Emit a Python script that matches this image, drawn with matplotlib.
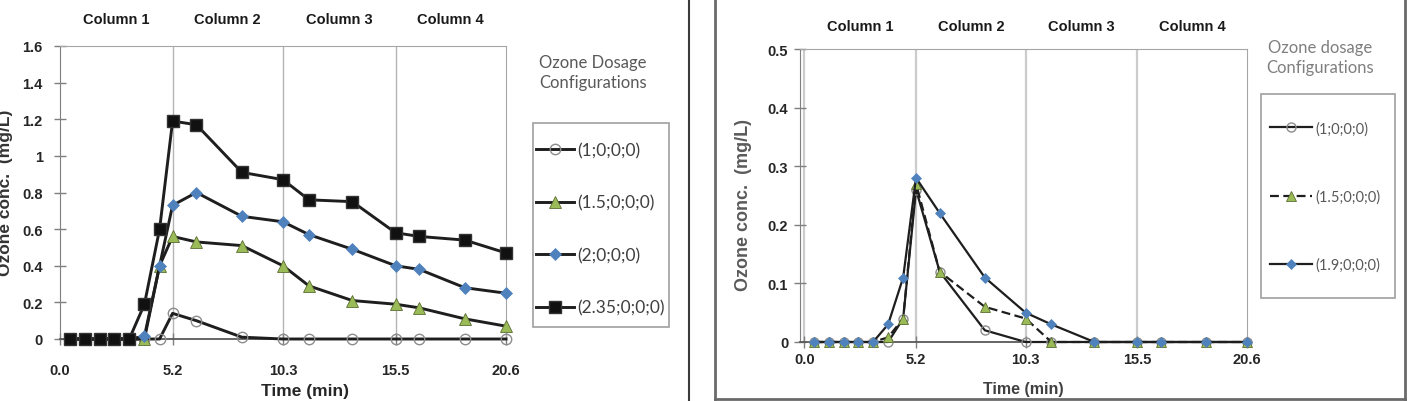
import matplotlib
matplotlib.use("Agg")
import matplotlib.pyplot as plt
from matplotlib.lines import Line2D
from matplotlib.patches import Rectangle
from matplotlib.transforms import blended_transform_factory

# ---------------- data ----------------
time_min = [0.45, 1.15, 1.85, 2.5, 3.2, 3.9, 4.6, 5.2, 6.3, 8.4, 10.3, 11.5, 13.5, 15.5, 16.6, 18.7, 20.6]

# left chart
left_labels = ["(1;0;0;0)", "(1.5;0;0;0)", "(2;0;0;0)", "(2.35;0;0;0)"]
left_d1 = [0, 0, 0, 0, 0, 0, 0, 0.14, 0.10, 0.01, 0, 0, 0, 0, 0, 0, 0]
left_d15 = [0, 0, 0, 0, 0, 0, 0.40, 0.56, 0.53, 0.51, 0.40, 0.29, 0.21, 0.19, 0.17, 0.11, 0.07]
left_d2 = [0, 0, 0, 0, 0, 0.015, 0.40, 0.73, 0.80, 0.67, 0.64, 0.57, 0.49, 0.40, 0.38, 0.28, 0.25]
left_d235 = [0, 0, 0, 0, 0, 0.19, 0.60, 1.19, 1.17, 0.91, 0.87, 0.76, 0.75, 0.58, 0.56, 0.54, 0.47]

# right chart
right_labels = ["(1;0;0;0)", "(1.5;0;0;0)", "(1.9;0;0;0)"]
right_d1 = [0, 0, 0, 0, 0, 0, 0.04, 0.26, 0.12, 0.02, 0, 0, 0, 0, 0, 0, 0]
right_d15 = [0, 0, 0, 0, 0, 0.008, 0.04, 0.27, 0.12, 0.06, 0.04, 0, 0, 0, 0, 0, 0]
right_d19 = [0, 0, 0, 0, 0, 0.03, 0.11, 0.28, 0.22, 0.11, 0.05, 0.03, 0, 0, 0, 0, 0]

x_ticks = [0.0, 5.2, 10.3, 15.5, 20.6]
x_ticklabels = ["0.0", "5.2", "10.3", "15.5", "20.6"]
column_boundaries = [5.2, 10.3, 15.5]
column_names = ["Column 1", "Column 2", "Column 3", "Column 4"]
column_centers = [2.6, 7.75, 12.9, 18.05]

left_yticks = [0, 0.2, 0.4, 0.6, 0.8, 1.0, 1.2, 1.4, 1.6]
left_yticklabels = ["0", "0.2", "0.4", "0.6", "0.8", "1", "1.2", "1.4", "1.6"]
right_yticks = [0, 0.1, 0.2, 0.3, 0.4, 0.5]
right_yticklabels = ["0", "0.1", "0.2", "0.3", "0.4", "0.5"]

# ---------------- figure ----------------
W, H = 1410, 402
fig = plt.figure(figsize=(W / 100, H / 100), dpi=100)
plt.rcParams['font.family'] = ['Liberation Sans', 'DejaVu Sans']

def px_rect(x0, y0, x1, y1):
    return [x0 / W, 1 - y1 / H, (x1 - x0) / W, (y1 - y0) / H]

LINE = "#1e1e1e"
BLUE = "#4f81bd"
GREEN = "#9bbb59"
TICKC = "#262626"

axL = fig.add_axes(px_rect(60, 47, 506, 340))
axR = fig.add_axes(px_rect(800, 50, 1247, 343))

def style_axes(ax, ylim, yticks, yticklabels, xlim, gridc, gridlw, xpad, ypad):
    ax.set_xlim(*xlim)
    ax.set_ylim(*ylim)
    for b in column_boundaries:
        ax.axvline(b, color=gridc, lw=gridlw, zorder=0.5)
    ax.set_xticks(x_ticks)
    ax.set_xticklabels(x_ticklabels)
    ax.set_yticks(yticks)
    ax.set_yticklabels(yticklabels)
    ax.tick_params(axis='x', direction='inout', length=9, width=1, color='#7f7f7f',
                   pad=xpad, labelsize=10.5, labelcolor=TICKC)
    ax.tick_params(axis='y', direction='inout', length=9, width=1, color='#7f7f7f',
                   pad=ypad, labelsize=10.5, labelcolor=TICKC)
    for lab in ax.get_xticklabels() + ax.get_yticklabels():
        lab.set_fontweight('bold')
    ax.spines['top'].set_color('#a6a6a6')
    ax.spines['right'].set_color('#a6a6a6')
    ax.spines['left'].set_color('#7f7f7f')
    ax.spines['bottom'].set_color('#595959')
    ax.spines['bottom'].set_linewidth(1.3)
    ax.set_facecolor('none')

style_axes(axL, (0, 1.6), left_yticks, left_yticklabels, (0, 20.6), '#b4b4b4', 1.0, 13, 8)
style_axes(axR, (0, 0.5), right_yticks, right_yticklabels, (-0.2, 20.6), '#cccccc', 1.6, 3, 4)
axR.axvline(0, color='#cccccc', lw=1.6, zorder=0.5)

# ---- left series ----
lw_l = 2.1
hL = []
hL.append(axL.plot(time_min, left_d1, color=LINE, lw=lw_l, marker='o', ms=7.5, mfc='none',
                   mec='#8c8c8c', mew=1.0, clip_on=False, zorder=3)[0])
hL.append(axL.plot(time_min, left_d15, color=LINE, lw=lw_l, marker='^', ms=8, mfc=GREEN,
                   mec='#5a6e30', mew=0.6, clip_on=False, zorder=4)[0])
hL.append(axL.plot(time_min, left_d2, color=LINE, lw=lw_l, marker='D', ms=6, mfc=BLUE,
                   mec=BLUE, mew=0.5, clip_on=False, zorder=5)[0])
hL.append(axL.plot(time_min, left_d235, color=LINE, lw=lw_l, marker='s', ms=8, mfc='#111111',
                   mec='#333333', mew=1.0, clip_on=False, zorder=6)[0])

# ---- right series ----
lw_r = 1.6
hR = []
hR.append(axR.plot(time_min, right_d1, color=LINE, lw=lw_r, marker='o', ms=6.5, mfc='none',
                   mec='#8c8c8c', mew=1.0, clip_on=False, zorder=3)[0])
hR.append(axR.plot(time_min, right_d15, color=LINE, lw=lw_r, ls=(0, (4, 2)), marker='^', ms=7,
                   mfc=GREEN, mec='#5a6e30', mew=0.6, clip_on=False, zorder=4)[0])
hR.append(axR.plot(time_min, right_d19, color=LINE, lw=lw_r, marker='D', ms=5.5, mfc=BLUE,
                   mec=BLUE, mew=0.5, clip_on=False, zorder=5)[0])

# ---- column labels ----
for ax, ypx in ((axL, 20), (axR, 27)):
    tr = blended_transform_factory(ax.transData, fig.transFigure)
    for name, cx in zip(column_names, column_centers):
        ax.text(cx, 1 - ypx / H, name, transform=tr, ha='center', va='center',
                fontsize=10.5, fontweight='bold', color='#1a1a1a')

# ---- axis labels ----
axL.set_xlabel("Time (min)", fontsize=12.5, fontweight='bold', color='#262626')
axL.xaxis.set_label_coords(0.55, -0.15)
axR.set_xlabel("Time (min)", fontsize=11.5, fontweight='bold', color='#404040')
axR.xaxis.set_label_coords(0.5, -0.133)

fig.text(6 / W, 1 - 193 / H, "Ozone conc.  (mg/L)", rotation=90, ha='center', va='center',
         fontsize=12.5, fontweight='bold', color='#333333')
fig.text(743 / W, 1 - 205 / H, "Ozone conc.  (mg/L)", rotation=90, ha='center', va='center',
         fontsize=13, fontweight='bold', color='#5a5a5a')

# ---- legends ----
LEGFONT = ['Lato', 'DejaVu Sans']
fig.text(593 / W, 1 - 73 / H, "Ozone Dosage\nConfigurations", ha='center', va='center',
         fontsize=12, color='#595959', family=LEGFONT, linespacing=1.25)
fig.text(1320 / W, 1 - 58 / H, "Ozone dosage\nConfigurations", ha='center', va='center',
         fontsize=12, color='#7f7f7f', family=LEGFONT, linespacing=1.25)

fig.patches.append(Rectangle((533 / W, 1 - 328 / H), (669 - 533) / W, (328 - 124) / H,
                             transform=fig.transFigure, fill=False, ec='#a0a0a0', lw=1.2))
fig.patches.append(Rectangle((1261 / W, 1 - 299 / H), (1395 - 1261) / W, (299 - 95) / H,
                             transform=fig.transFigure, fill=False, ec='#a0a0a0', lw=1.2))

legL = fig.legend(hL, left_labels, loc='upper left', bbox_to_anchor=(536 / W, 1 - 143 / H),
                  frameon=False, prop={'family': LEGFONT, 'size': 12.5}, labelcolor='#404040',
                  handlelength=2.2, handletextpad=0.15, labelspacing=2.1, borderpad=0,
                  borderaxespad=0)
legR = fig.legend(hR, right_labels, loc='upper left', bbox_to_anchor=(1270 / W, 1 - 122 / H),
                  frameon=False, prop={'family': LEGFONT, 'size': 10.5}, labelcolor='#595959',
                  handlelength=2.9, handletextpad=0.2, labelspacing=3.7, borderpad=0,
                  borderaxespad=0)

# ---- panel borders ----
fig.add_artist(Line2D([689 / W, 689 / W], [0, 1], transform=fig.transFigure, color='#3c3c3c', lw=1.5))
for xs, ys in (([715, 715], [0, 400]), ([715, 1405], [400, 400]), ([1405, 1405], [0, 400])):
    fig.add_artist(Line2D([x / W for x in xs], [1 - y / H for y in ys], transform=fig.transFigure,
                          color='#6a6a6a', lw=2))

fig.savefig("out.png", dpi=100)
